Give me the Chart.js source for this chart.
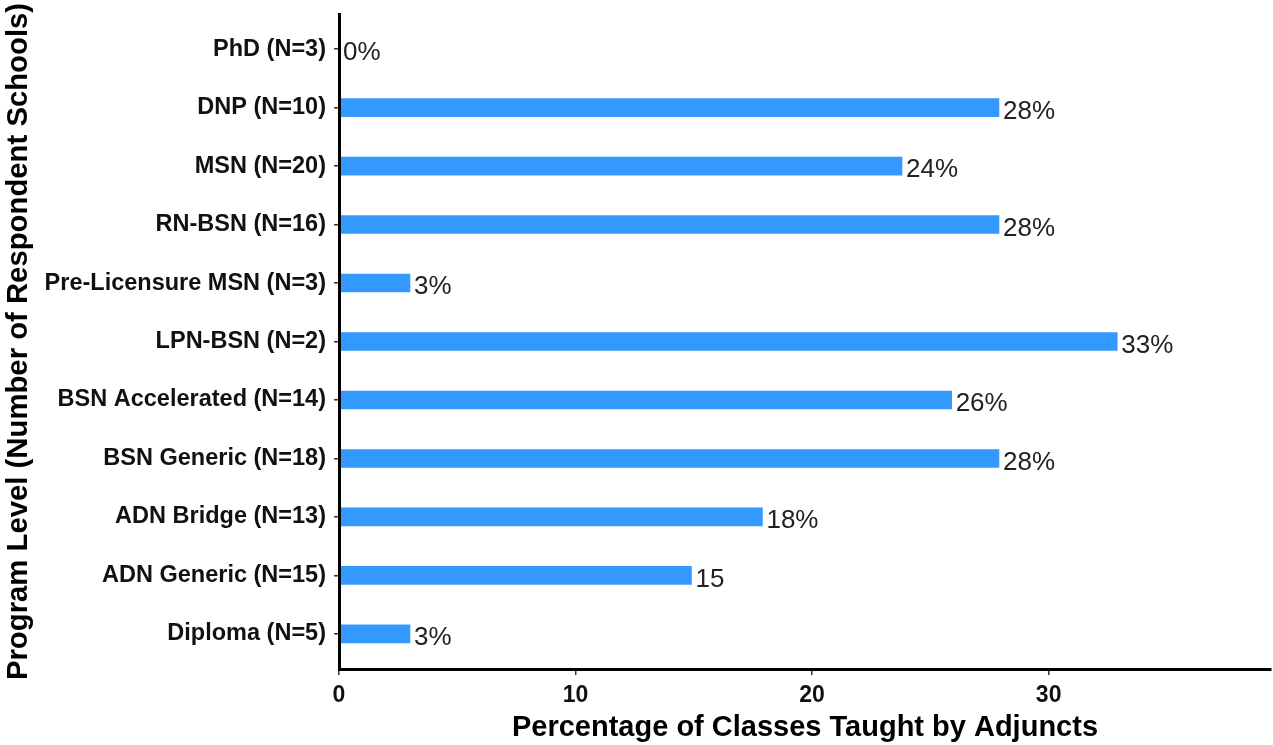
<!DOCTYPE html>
<html>
<head>
<meta charset="utf-8">
<script src="https://cdn.jsdelivr.net/npm/chart.js@4"></script>
<style>
  html, body { margin: 0; padding: 0; background: #fff; }
  canvas { display: block; }
</style>
</head>
<body>
<canvas id="chart" width="1273" height="745"></canvas>
<script>
// program levels, top to bottom
const programs = [
  'PhD (N=3)',
  'DNP (N=10)',
  'MSN (N=20)',
  'RN-BSN (N=16)',
  'Pre-Licensure MSN (N=3)',
  'LPN-BSN (N=2)',
  'BSN Accelerated (N=14)',
  'BSN Generic (N=18)',
  'ADN Bridge (N=13)',
  'ADN Generic (N=15)',
  'Diploma (N=5)',
]
// percentage of classes taught by adjuncts
const pctAdjunct = [0, 27.9, 23.8, 27.9, 3, 32.9, 25.9, 27.9, 17.9, 14.9, 3]
// text printed next to each bar
const barLabels = ['0%', '28%', '24%', '28%', '3%', '33%', '26%', '28%', '18%', '15', '3%']
const xTicks = [0, 10, 20, 30]

const FONT = "'Liberation Sans', Arial, sans-serif"

const barText = {
  id: 'barText',
  afterDatasetsDraw (chart) {
    const { ctx } = chart
    const meta = chart.getDatasetMeta(0)
    ctx.save()
    ctx.font = `26px ${FONT}`
    ctx.fillStyle = '#222'
    ctx.textAlign = 'left'
    ctx.textBaseline = 'middle'
    meta.data.forEach((bar, i) => {
      ctx.fillText(barLabels[i], bar.x + 4, bar.y + 4)
    })
    ctx.restore()
  },
}

new Chart(document.getElementById('chart'), {
  type: 'bar',
  data: {
    datasets: [{
      data: pctAdjunct.map((v, i) => ({ x: v, y: i })),
      backgroundColor: '#3399ff',
      borderWidth: 0,
      barThickness: 18,
    }],
  },
  plugins: [barText],
  options: {
    indexAxis: 'y',
    responsive: false,
    animation: false,
    devicePixelRatio: 1,
    layout: { padding: { top: 14, right: 2, left: 0, bottom: 0 } },
    plugins: { legend: { display: false }, tooltip: { enabled: false } },
    scales: {
      x: {
        type: 'linear',
        min: 0,
        max: 39.4,
        afterBuildTicks: (scale) => { scale.ticks = xTicks.map(v => ({ value: v })) },
        afterFit: (scale) => { scale.height = 76 },
        border: { display: true, color: '#000', width: 3, z: 1 },
        grid: { drawOnChartArea: false, drawTicks: true, tickLength: 6, color: '#333', lineWidth: 1.5 },
        ticks: { font: { family: FONT, size: 23, weight: 'bold' }, color: '#111', padding: 7, maxRotation: 0 },
        title: {
          display: true,
          text: 'Percentage of Classes Taught by Adjuncts',
          font: { family: FONT, size: 29, weight: 'bold' },
          color: '#000',
          padding: { top: 0, bottom: 0 },
        },
      },
      y: {
        type: 'linear',
        min: -0.6,
        max: 10.6,
        reverse: true,
        offset: false,
        afterBuildTicks: (scale) => { scale.ticks = programs.map((p, i) => ({ value: i })) },
        afterFit: (scale) => {
          scale.width = 339
          scale.paddingTop = 0
          scale.paddingBottom = 0
        },
        border: { display: true, color: '#000', width: 3, z: 1 },
        grid: { offset: false, drawOnChartArea: false, drawTicks: true, tickLength: 5, color: '#333', lineWidth: 1.5 },
        ticks: {
          autoSkip: false,
          font: { family: FONT, size: 23.5, weight: 'bold' },
          color: '#111',
          padding: 8,
          callback: (v) => programs[v],
        },
        title: {
          display: true,
          text: 'Program Level (Number of Respondent Schools)',
          font: { family: FONT, size: 29.3, weight: 'bold' },
          color: '#000',
          padding: { top: 1, bottom: 0 },
        },
      },
    },
  },
})
</script>
</body>
</html>
